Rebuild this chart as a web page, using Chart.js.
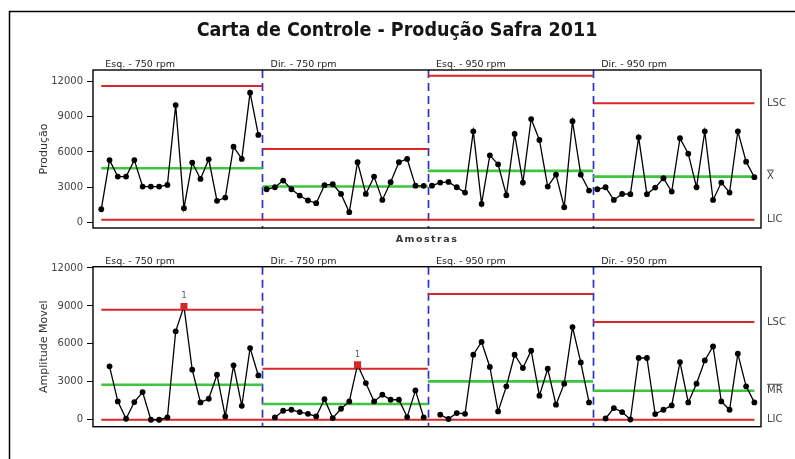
<!DOCTYPE html>
<html>
<head>
<meta charset="utf-8">
<script src="https://cdn.jsdelivr.net/npm/chart.js@4/dist/chart.umd.min.js"></script>
<style>
  body { margin: 0; background: #fff; }
  #wrap { position: relative; width: 795px; height: 459px; overflow: hidden; }
  canvas { position: absolute; left: 0; }
</style>
</head>
<body>
<div id="wrap">
  <canvas id="cInd" width="795" height="250" style="top:0"></canvas>
  <canvas id="cMR" width="795" height="209" style="top:250px"></canvas>
</div>
<script>
// estágios e número de amostras por estágio
const estagios = ["Esq. - 750 rpm", "Dir. - 750 rpm", "Esq. - 950 rpm", "Dir. - 950 rpm"];
const pontosPorEstagio = [20, 20, 20, 20];

// valores individuais (Produção)
const producao = [
  1100, 5300, 3890, 3890, 5300, 3040, 3040, 3040, 3180, 10000, 1190, 5090, 3690, 5370, 1820, 2100, 6450, 5400, 11060, 7450,
  2810, 2980, 3550, 2810, 2270, 1850, 1620, 3160, 3240, 2410, 850, 5120, 2410, 3890, 1900, 3410, 5120, 5400, 3120, 3100,
  3120, 3380, 3440, 2980, 2530, 7760, 1560, 5710, 4940, 2300, 7530, 3380, 8810, 7020, 3040, 4060, 1280, 8620, 4060, 2700,
  2810, 2980, 1900, 2410, 2390, 7250, 2390, 2950, 3750, 2610, 7170, 5850, 2980, 7760, 1900, 3380, 2530, 7760, 5170, 3840
];

// amplitude móvel (sem valor no primeiro ponto de cada estágio)
const amplitudeMovel = [
  null, 4220, 1450, 80, 1400, 2190, 0, 0, 180, 6990, 8960, 3960, 1370, 1660, 3560, 260, 4300, 1100, 5670, 3500,
  null, 180, 710, 790, 610, 470, 260, 1630, 130, 870, 1450, 4350, 2900, 1450, 1980, 1580, 1580, 210, 2320, 180,
  null, 400, 60, 530, 470, 5140, 6150, 4170, 660, 2640, 5140, 4090, 5460, 1900, 4030, 1190, 2850, 7330, 4530, 1370,
  null, 100, 920, 610, 20, 4880, 4880, 450, 790, 1130, 4560, 1370, 2850, 4690, 5800, 1450, 790, 5220, 2640, 1370
];

// limites por estágio
const lscInd = [11630, 6250, 12500, 10150];
const mediaInd = [4610, 3040, 4380, 3890];
const licInd = [200, 200, 200, 200];
const lscMR = [8700, 4030, 9940, 7730];
const mediaMR = [2770, 1240, 3030, 2290];
const licMR = [0, 0, 0, 0];

const ticksY = [0, 3000, 6000, 9000, 12000];

const VERMELHO = "#d8262b";
const VERDE = "#3fc43f";
const AZUL = "#2a33c4";

Chart.defaults.font.family = "'DejaVu Sans', Verdana, sans-serif";

const inicio = [];
let acc = 0;
pontosPorEstagio.forEach(n => { inicio.push(acc + 1); acc += n; });
const fim = inicio.map((s, i) => s + pontosPorEstagio[i] - 1);
const divisas = inicio.slice(1).map(s => s - 0.5);

const estagioDe = x => inicio.findIndex((s, i) => x >= s && x <= fim[i]);

const linhaLimite = vals => {
  const d = [];
  vals.forEach((v, s) => {
    const a = s === 0 ? inicio[s] : inicio[s] - 0.5;
    const b = s === vals.length - 1 ? fim[s] : fim[s] + 0.5;
    d.push({ x: a, y: v }, { x: b, y: v }, { x: b, y: null });
  });
  return d;
};

const foraDeControle = (v, x, lsc, lic) => {
  if (v == null) return false;
  const s = estagioDe(x);
  return v > lsc[s] || v < lic[s];
};

const decor = {
  id: "decor",
  beforeDatasetsDraw(chart) {
    const { ctx, chartArea: a, scales: { x } } = chart;
    ctx.save();
    ctx.strokeStyle = AZUL;
    ctx.lineWidth = 1.7;
    ctx.setLineDash([8, 5]);
    divisas.forEach(d => {
      const px = Math.round(x.getPixelForValue(d)) + 0.5;
      ctx.beginPath();
      ctx.moveTo(px, a.top);
      ctx.lineTo(px, a.bottom);
      ctx.stroke();
    });
    ctx.restore();
  },
  afterDraw(chart, args, o) {
    const { ctx, chartArea: a, scales: { x, y } } = chart;
    ctx.save();

    // moldura externa
    ctx.strokeStyle = "#000";
    ctx.lineWidth = 1.5;
    ctx.beginPath();
    if (o.painel === "ind") {
      ctx.moveTo(9.5, chart.height);
      ctx.lineTo(9.5, 11.5);
      ctx.lineTo(795, 11.5);
    } else {
      ctx.moveTo(9.5, 0);
      ctx.lineTo(9.5, chart.height);
    }
    ctx.stroke();

    // borda da área do gráfico
    ctx.lineWidth = 1.4;
    ctx.strokeRect(a.left, a.top, a.right - a.left, a.bottom - a.top);

    // rótulos dos estágios
    ctx.fillStyle = "#222";
    ctx.font = "9.5px 'DejaVu Sans'";
    ctx.textAlign = "left";
    ctx.textBaseline = "middle";
    estagios.forEach((e, s) => {
      ctx.fillText(e, x.getPixelForValue(inicio[s]) + 4, a.top - 5);
    });

    // rótulos à direita
    const ult = estagios.length - 1;
    const rx = a.right + 6;
    ctx.fillStyle = "#444";
    ctx.font = "10px 'DejaVu Sans'";
    ctx.fillText("LSC", rx, y.getPixelForValue(o.lsc[ult]));
    ctx.fillText("LIC", rx, y.getPixelForValue(o.lic[ult]));
    const cy = y.getPixelForValue(o.media[ult]);
    ctx.fillText(o.rotuloMedia, rx, cy);
    const w = ctx.measureText(o.rotuloMedia).width;
    ctx.strokeStyle = "#444";
    ctx.lineWidth = 1;
    ctx.beginPath();
    ctx.moveTo(rx, cy - 6.5);
    ctx.lineTo(rx + w, cy - 6.5);
    ctx.stroke();

    // marcações "1" nos pontos fora de controle
    ctx.font = "8px 'DejaVu Sans'";
    ctx.textAlign = "center";
    ctx.fillStyle = "#555";
    o.valores.forEach((v, i) => {
      if (foraDeControle(v, i + 1, o.lsc, o.lic)) {
        ctx.fillText("1", x.getPixelForValue(i + 1), y.getPixelForValue(v) - 10);
      }
    });

    // título do eixo y
    ctx.save();
    ctx.translate(44, (a.top + a.bottom) / 2);
    ctx.rotate(-Math.PI / 2);
    ctx.font = "11px 'DejaVu Sans'";
    ctx.fillStyle = "#333";
    ctx.textAlign = "center";
    ctx.fillText(o.tituloY, 0, 0);
    ctx.restore();

    if (o.painel === "ind") {
      ctx.fillStyle = "#151515";
      ctx.font = "bold 19.5px 'DejaVu Sans Condensed', 'DejaVu Sans', sans-serif";
      ctx.textAlign = "center";
      ctx.fillText("Carta de Controle - Produção Safra 2011", 397, 31);

      ctx.fillStyle = "#333";
      ctx.font = "bold 9.5px 'DejaVu Sans'";
      ctx.letterSpacing = "1.5px";
      ctx.fillText("Amostras", (a.left + a.right) / 2, a.bottom + 12);
    }
    ctx.restore();
  }
};

function criarGrafico(id, valores, lsc, media, lic, escala, padding, extras) {
  const pontos = valores.map((v, i) => ({ x: i + 1, y: v }));
  const fora = ctx => {
    const p = ctx.raw;
    return p && foraDeControle(p.y, p.x, lsc, lic);
  };
  return new Chart(document.getElementById(id), {
    type: "line",
    data: {
      datasets: [
        {
          data: pontos,
          borderColor: "#000",
          borderWidth: 1.3,
          spanGaps: false,
          pointStyle: ctx => fora(ctx) ? "rect" : "circle",
          pointRadius: ctx => fora(ctx) ? 5 : 2.9,
          pointBackgroundColor: ctx => fora(ctx) ? VERMELHO : "#000",
          pointBorderColor: ctx => fora(ctx) ? VERMELHO : "#000",
          pointBorderWidth: 0,
          segment: {
            borderColor: ctx => estagioDe(ctx.p0DataIndex + 1) === estagioDe(ctx.p1DataIndex + 1) ? "#000" : "rgba(0,0,0,0)"
          }
        },
        { data: linhaLimite(lsc), borderColor: VERMELHO, borderWidth: 2, pointRadius: 0, spanGaps: false },
        { data: linhaLimite(media), borderColor: VERDE, borderWidth: 2.6, pointRadius: 0, spanGaps: false },
        { data: linhaLimite(lic), borderColor: VERMELHO, borderWidth: 2, pointRadius: 0, spanGaps: false }
      ]
    },
    options: {
      responsive: false,
      animation: false,
      layout: { padding },
      plugins: {
        legend: { display: false },
        tooltip: { enabled: false },
        decor: Object.assign({ valores, lsc, media, lic }, extras)
      },
      scales: {
        x: { type: "linear", min: 0, max: 80.8, display: false },
        y: {
          min: escala[0],
          max: escala[1],
          afterFit: s => { s.width = 93; },
          afterBuildTicks: s => { s.ticks = ticksY.map(v => ({ value: v })); },
          border: { display: false },
          grid: { drawOnChartArea: false, drawTicks: true, tickLength: 6, color: "#000", lineWidth: 1 },
          ticks: { padding: 4, color: "#444", font: { size: 10 }, callback: v => String(v) }
        }
      }
    },
    plugins: [decor]
  });
}

criarGrafico("cInd", producao, lscInd, mediaInd, licInd, [-500, 13000],
  { top: 70, bottom: 22, left: 0, right: 34 },
  { painel: "ind", tituloY: "Produção", rotuloMedia: "X" });

criarGrafico("cMR", amplitudeMovel, lscMR, mediaMR, licMR, [-550, 12100],
  { top: 16.7, bottom: 32.3, left: 0, right: 34 },
  { painel: "mr", tituloY: "Amplitude Movel", rotuloMedia: "MR" });
</script>
</body>
</html>
